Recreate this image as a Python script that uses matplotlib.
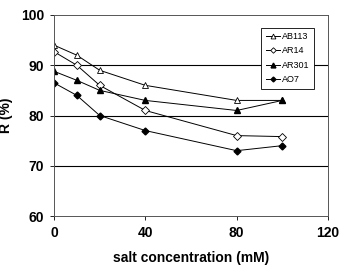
import matplotlib.pyplot as plt

plt.rcParams['font.family'] = ['Liberation Sans', 'DejaVu Sans']

salt = [0, 10, 20, 40, 80, 100]
ab113 = [94, 92, 89, 86, 83, 83]
ar14 = [92.7, 90, 86, 81, 76, 75.8]
ar301 = [88.8, 87, 85, 83, 81, 83]
ao7 = [86.5, 84, 80, 77, 73, 74]

fig = plt.figure(figsize=(3.44, 2.66), dpi=100)
ax = fig.add_axes([54 / 344, 50 / 266, 274 / 344, 201 / 266])

lw = 0.7
ax.plot(salt, ab113, color='black', lw=lw, marker='^', ms=5, mfc='white', mec='black', mew=0.6, label='AB113')
ax.plot(salt, ar14, color='black', lw=lw, marker='D', ms=4, mfc='white', mec='black', mew=0.6, label='AR14')
ax.plot(salt, ar301, color='black', lw=lw, marker='^', ms=5, mfc='black', mec='black', label='AR301')
ax.plot(salt, ao7, color='black', lw=lw, marker='D', ms=3.5, mfc='black', mec='black', label='AO7')

for y in [70, 80, 90]:
    ax.axhline(y, color='black', lw=0.8, zorder=0)

ax.set_xlim(0, 120)
ax.set_ylim(60, 100)
ax.set_xticks([0, 40, 80, 120])
ax.set_yticks([60, 70, 80, 90, 100])
ax.tick_params(labelsize=10, length=3, width=0.6, pad=4)
for lab in ax.get_xticklabels() + ax.get_yticklabels():
    lab.set_fontweight('bold')
for s in ax.spines.values():
    s.set_linewidth(0.7)
    s.set_color('#555555')

ax.set_xlabel('salt concentration (mM)', fontsize=10, fontweight='bold', labelpad=8)
ax.set_ylabel('R (%)', fontsize=10, fontweight='bold', labelpad=6)

leg = ax.legend(loc='upper right', bbox_to_anchor=(0.965, 0.96), fontsize=6.5, frameon=True,
                fancybox=False, edgecolor='black', framealpha=1, handlelength=1.6,
                borderpad=0.5, labelspacing=0.6, handletextpad=0.2, markerscale=0.7)
leg.get_frame().set_linewidth(0.6)

plt.savefig('out.png', dpi=100)
